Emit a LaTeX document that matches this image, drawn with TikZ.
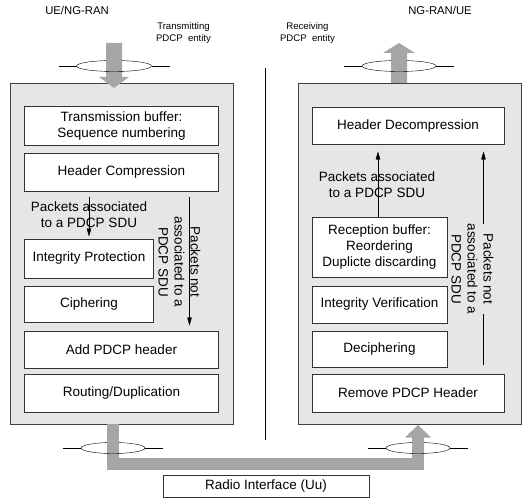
\documentclass[tikz,border=0pt]{standalone}
\usepackage{fontspec}
\setmainfont{Liberation Sans}
\usetikzlibrary{arrows.meta}

\begin{document}
\begin{tikzpicture}[x=1bp, y=-1bp, >={Triangle[length=8bp, width=4.5bp]}, line join=miter,
    panel/.style={draw=black!75, fill=panelgrey, line width=0.7bp},
    layer/.style={draw=black!80, fill=white, line width=1bp, inner sep=0pt,
      align=center, minimum height=37bp, font=\fontsize{13.5bp}{16bp}\selectfont},
    note/.style={align=center, inner sep=0pt, font=\fontsize{13.5bp}{16bp}\selectfont},
    entity/.style={align=center, inner sep=0pt, font=\fontsize{9.6bp}{12bp}\selectfont},
    side/.style={inner sep=0pt, font=\fontsize{11.3bp}{13bp}\selectfont}]
    \definecolor{panelgrey}{HTML}{E6E6E6}
    \definecolor{arrowgrey}{HTML}{A6A6A6}

    \useasboundingbox (0,0) rectangle (529,498);

    % --- the two entities and the divider
    \draw[panel] (10,83) rectangle (233,424);
    \draw[panel] (298,83) rectangle (521,424);
    \draw (265,68) -- (265,440);

    % --- back halves of the rings
    \foreach \cx/\cy/\rx in {114/66/37.5, 399/66/37, 113/448/32, 418/448/32} {
      \draw (\cx-\rx,\cy) arc[start angle=180, end angle=0, x radius=\rx bp, y radius=5.5bp];
    }

    % --- the SDU flow
    \fill[arrowgrey] (106,43) -- (122,43) -- (122,77) -- (129,77) -- (114,88)
      -- (99,77) -- (106,77) -- cycle;
    \fill[arrowgrey] (391,83) -- (391,53) -- (383,53) -- (399,43) -- (415,53)
      -- (407,53) -- (407,83) -- cycle;
    \draw[arrowgrey, line width=12bp] (112.5,424) |- (418,464) -- (418,437);
    \fill[arrowgrey] (405,437.5) -- (418,425) -- (431,437.5) -- cycle;

    % --- front halves of the rings, with their stubs
    \foreach \cx/\cy/\rx in {114/66/37.5, 399/66/37, 113/448/32, 418/448/32} {
      \draw (\cx-\rx,\cy) arc[start angle=180, end angle=360, x radius=\rx bp, y radius=5.5bp];
      \draw (\cx-\rx-18,\cy) -- (\cx-\rx,\cy);
      \draw (\cx+\rx,\cy) -- (\cx+\rx+18,\cy);
    }

    % --- transmitting side
    \node[layer, minimum width=193bp, minimum height=39bp] (txbuf) at (121.5,126.5)
      {Transmission buffer:\\Sequence numbering};
    \node[layer, minimum width=193bp] (hdrcomp) at (121.5,172.5) {Header Compression};
    \node[layer, minimum width=128bp, minimum height=39bp] (intprot) at (89,258.5)
      {Integrity Protection};
    \node[layer, minimum width=128bp, minimum height=36bp] (ciph) at (89,304) {Ciphering};
    \node[layer, minimum width=193bp] (addhdr) at (121.5,349.5) {Add PDCP header};
    \node[layer, minimum width=193bp, minimum height=38bp] (routing) at (121.5,393)
      {Routing/Duplication};

    \draw[->, shorten <=5bp, shorten >=2bp] (hdrcomp.south -| intprot.north) -- (intprot.north);
    \draw[->, shorten <=5bp, shorten >=5bp] ([xshift=-29bp]hdrcomp.south east)
      -- ([xshift=-29bp]addhdr.north east);
    \node[note] (assocTx) at (89,215) {Packets associated\\to a PDCP SDU};
    \node[note, rotate=-90] (bypassTx) at (179.5,262) {Packets not\\associated to a\\PDCP SDU};

    % --- receiving side
    \node[layer, minimum width=192bp] (hdrdecomp) at (408,126.5) {Header Decompression};
    \node[layer, minimum width=135bp, minimum height=60bp] (rxbuf) at (379.5,247)
      {Reception buffer:\\Reordering\\Duplicte discarding};
    \node[layer, minimum width=135bp] (intver) at (379.5,304.5) {Integrity Verification};
    \node[layer, minimum width=135bp, minimum height=36bp] (deciph) at (379.5,349)
      {Deciphering};
    \node[layer, minimum width=192bp, minimum height=38bp] (rmhdr) at (408,393)
      {Remove PDCP Header};

    \draw[->, shorten >=6bp] ([xshift=-1.5bp]rxbuf.north) -- ([xshift=-1.5bp]rxbuf.north |- hdrdecomp.south);
    \draw[->, shorten <=9bp, shorten >=6bp] ([xshift=-21bp]rmhdr.north east)
      -- ([xshift=-21bp]hdrdecomp.south east);
    \node[note] (assocRx) at (377,185) {Packets associated\\to a PDCP SDU};
    \node[note, rotate=-90, fill=panelgrey] (bypassRx) at (472.5,269)
      {Packets not\\associated to a\\PDCP SDU};

    % --- labels
    \node[side] (ueL) at (77,10) {UE/NG-RAN};
    \node[side] (ueR) at (440,10) {NG-RAN/UE};
    \node[entity] (txent) at (183.5,33) {Transmitting\\PDCP\ \ entity};
    \node[entity] (rxent) at (307.5,33) {Receiving\\PDCP\ \ entity};

    % --- the air interface
    \node[layer, minimum width=206bp, minimum height=22bp] (uu) at (266,486)
      {Radio Interface (Uu)};
  \end{tikzpicture}
\end{document}
